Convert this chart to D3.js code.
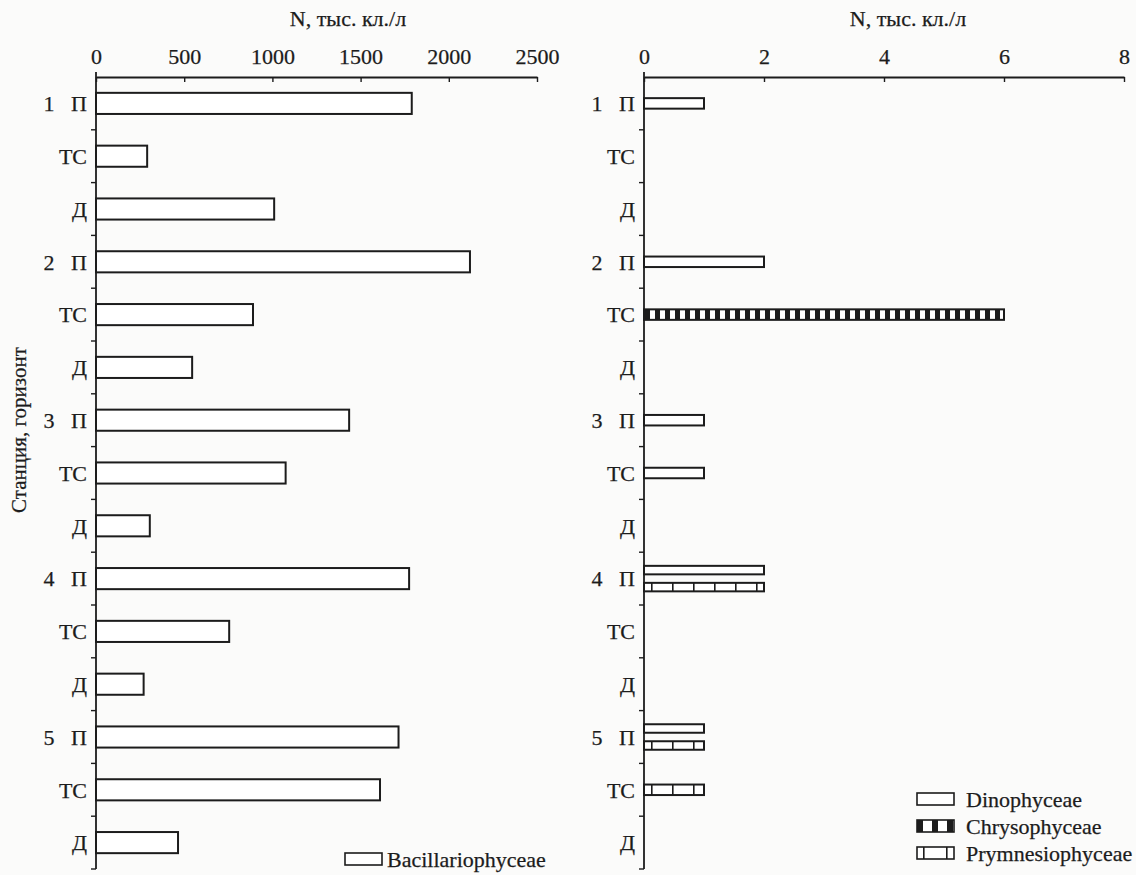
<!DOCTYPE html>
<html>
<head>
<meta charset="utf-8">
<script src="https://cdn.jsdelivr.net/npm/d3@7/dist/d3.min.js"></script>
<style>
  html, body { margin: 0; padding: 0; background: #fbfbfa; }
  svg { display: block; }
  text { font-family: "Liberation Serif", "DejaVu Serif", serif; fill: #1c1c1c; stroke: #1c1c1c; stroke-width: 0.25px; }
</style>
</head>
<body>
<svg id="chart" width="1136" height="875"></svg>
<script>
// Stations and sampling horizons (П – surface, ТС – thermocline, Д – bottom)
const stations = ["1", "2", "3", "4", "5"];
const horizons = ["П", "ТС", "Д"];

// Abundance of Bacillariophyceae, thousand cells per litre, row by row
const bacillariophyceae = [1790, 290, 1010, 2120, 890, 545, 1435, 1075, 305, 1775, 755, 270, 1715, 1610, 465];

// Abundance of the minor classes, thousand cells per litre
const dinophyceae      = [1, 0, 0, 2, 0, 0, 1, 1, 0, 2, 0, 0, 1, 0, 0];
const chrysophyceae    = [0, 0, 0, 0, 6, 0, 0, 0, 0, 0, 0, 0, 0, 0, 0];
const prymnesiophyceae = [0, 0, 0, 0, 0, 0, 0, 0, 0, 2, 0, 0, 1, 1, 0];

// Axis ticks
const leftTicks = [0, 500, 1000, 1500, 2000, 2500];
const rightTicks = [0, 2, 4, 6, 8];

const axisTitle = "N, тыс. кл./л";
const yTitle = "Станция, горизонт";

const rows = [];
stations.forEach(s => horizons.forEach(h => rows.push({ station: s, horizon: h, id: s + "-" + h })));

const ink = "#1c1c1c";
const fs = 22;
const svg = d3.select("#chart");
const defs = svg.append("defs");

// Fill patterns for the minor classes
function stripePattern(id, period, stripeW, originX) {
  const p = defs.append("pattern").attr("id", id)
    .attr("patternUnits", "userSpaceOnUse")
    .attr("x", originX).attr("y", 0)
    .attr("width", period).attr("height", 40);
  p.append("rect").attr("width", period).attr("height", 40).attr("fill", "#fff");
  p.append("rect").attr("x", 0).attr("width", stripeW).attr("height", 40).attr("fill", ink);
}
function linePattern(id, period, offset, originX) {
  const p = defs.append("pattern").attr("id", id)
    .attr("patternUnits", "userSpaceOnUse")
    .attr("x", originX).attr("y", 0)
    .attr("width", period).attr("height", 40);
  p.append("rect").attr("width", period).attr("height", 40).attr("fill", "#fff");
  p.append("rect").attr("x", offset).attr("width", 1.6).attr("height", 40).attr("fill", ink);
}

const yTop = 77, yBottom = 869;
const y = d3.scaleBand().domain(rows.map(r => r.id)).range([yTop, yBottom])
  .paddingInner(0.6).paddingOuter(0.3);
const step = (yBottom - yTop) / rows.length;

function drawPanel(opts) {
  const { x, ticks, titleX } = opts;
  const x0 = x.range()[0];
  const g = svg.append("g");

  // top value axis
  const ax = g.append("g").attr("transform", `translate(0,${yTop})`)
    .call(d3.axisTop(x).tickValues(ticks).tickFormat(d3.format("d"))
      .tickSizeInner(-5).tickSizeOuter(0).tickPadding(13));
  ax.attr("font-family", null).attr("font-size", null);
  ax.select(".domain").attr("stroke", ink).attr("stroke-width", 1.8);
  ax.selectAll(".tick line").attr("stroke", ink).attr("stroke-width", 1.4);
  ax.selectAll(".tick text").attr("font-size", fs).attr("fill", ink);

  g.append("text").attr("x", titleX).attr("y", 26).attr("text-anchor", "middle")
    .attr("font-size", fs).text(axisTitle);

  // category axis on the left of the bars
  g.append("line").attr("x1", x0).attr("x2", x0).attr("y1", yTop - 5).attr("y2", yBottom)
    .attr("stroke", ink).attr("stroke-width", 1.8);
  const bounds = d3.range(1, rows.length + 1).map(k => yTop + k * step);
  g.selectAll(".ytick").data(bounds).join("line")
    .attr("x1", x0 - 5).attr("x2", x0).attr("y1", d => d).attr("y2", d => d)
    .attr("stroke", ink).attr("stroke-width", 1.4);

  const lab = g.selectAll(".lab").data(rows).join("g")
    .attr("transform", r => `translate(0,${y(r.id) + y.bandwidth() / 2})`);
  lab.append("text").attr("x", x0 - 9).attr("dy", "0.35em").attr("text-anchor", "end")
    .attr("font-size", fs).text(r => r.horizon);
  lab.filter(r => r.horizon === horizons[0]).append("text")
    .attr("x", x0 - 47).attr("dy", "0.35em").attr("text-anchor", "middle")
    .attr("font-size", fs).text(r => r.station);
  return g;
}

// Left panel: Bacillariophyceae
const xL = d3.scaleLinear().domain([0, 2500]).range([96, 537]);
const gL = drawPanel({ x: xL, ticks: leftTicks, titleX: 348 });
gL.selectAll(".bar").data(rows.map((r, i) => ({ id: r.id, v: bacillariophyceae[i] }))).join("rect")
  .attr("x", xL(0)).attr("y", d => y(d.id))
  .attr("width", d => xL(d.v) - xL(0)).attr("height", y.bandwidth())
  .attr("fill", "#fff").attr("stroke", ink).attr("stroke-width", 2);

// Right panel: minor classes
const xR = d3.scaleLinear().domain([0, 8]).range([644, 1124]);
stripePattern("pat-chryso", 10, 5, xR(0) + 1);
linePattern("pat-prymn", 21, 7, xR(0));
const gR = drawPanel({ x: xR, ticks: rightTicks, titleX: 908 });

const series = [
  { key: "Dinophyceae", values: dinophyceae, fill: "#fff" },
  { key: "Chrysophyceae", values: chrysophyceae, fill: "url(#pat-chryso)" },
  { key: "Prymnesiophyceae", values: prymnesiophyceae, fill: "url(#pat-prymn)" }
];
const minorBars = [];
rows.forEach((r, i) => {
  const present = series.filter(s => s.values[i] > 0);
  const n = present.length;
  const slot = 17;
  const h = n > 1 ? 8.5 : 10.5;
  const c = y(r.id) + y.bandwidth() / 2;
  present.forEach((s, j) => {
    minorBars.push({ v: s.values[i], fill: s.fill, cy: c + (j - (n - 1) / 2) * slot, h });
  });
});
gR.selectAll(".bar").data(minorBars).join("rect")
  .attr("x", xR(0)).attr("y", d => d.cy - d.h / 2)
  .attr("width", d => xR(d.v) - xR(0)).attr("height", d => d.h)
  .attr("fill", d => d.fill).attr("stroke", ink).attr("stroke-width", 2);

// Y title
svg.append("text").attr("transform", "translate(26,430) rotate(-90)")
  .attr("text-anchor", "middle").attr("font-size", 21).text(yTitle);

// Legends
const legL = svg.append("g").attr("transform", "translate(345,853)");
legL.append("rect").attr("width", 37).attr("height", 12).attr("fill", "#fff").attr("stroke", ink).attr("stroke-width", 1.6);
legL.append("text").attr("x", 42).attr("y", 6).attr("dy", "0.35em").attr("font-size", fs).text("Bacillariophyceae");

stripePattern("leg-chryso", 15, 6, 917);
linePattern("leg-prymn", 23, 7, 916);
const legR = svg.append("g");
series.forEach((s, i) => {
  const gy = 793 + i * 27;
  legR.append("rect").attr("x", 917).attr("y", gy).attr("width", 37).attr("height", 12)
    .attr("fill", i === 0 ? "#fff" : (i === 1 ? "url(#leg-chryso)" : "url(#leg-prymn)"))
    .attr("stroke", ink).attr("stroke-width", 1.6);
  legR.append("text").attr("x", 966).attr("y", gy + 6).attr("dy", "0.35em")
    .attr("font-size", fs).text(s.key);
});
</script>
</body>
</html>
